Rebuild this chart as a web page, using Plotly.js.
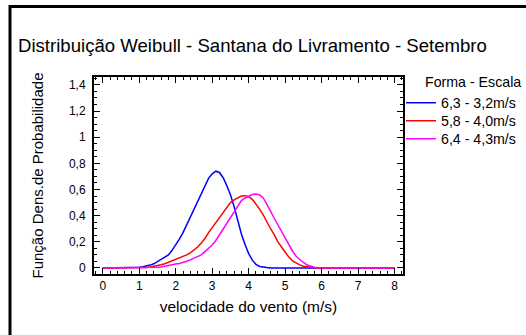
<!DOCTYPE html>
<html>
<head>
<meta charset="utf-8">
<script src="https://cdn.plot.ly/plotly-3.0.1.min.js"></script>
<style>html,body{margin:0;padding:0;background:#fff;}#chart{width:526px;height:335px;}</style>
</head>
<body>
<div id="chart"></div>
<script>
// velocidade do vento (m/s)
const velocidade = [0, 0.5, 1.0, 1.1, 1.2, 1.3, 1.4, 1.5, 1.6, 1.7, 1.8, 1.9,
  2.0, 2.1, 2.2, 2.3, 2.4, 2.5, 2.6, 2.7, 2.8, 2.9,
  3.0, 3.1, 3.2, 3.3, 3.4, 3.5, 3.6, 3.7, 3.8, 3.9,
  4.0, 4.1, 4.2, 4.3, 4.4, 4.5, 4.6, 4.7, 4.8, 4.9,
  5.0, 5.1, 5.2, 5.3, 5.4, 5.5, 5.6, 5.7, 5.8, 5.9,
  6.0, 6.5, 7.0, 7.5, 8.0];

const serieNomes = ['6,3 - 3,2m/s', '5,8 - 4,0m/s', '6,4 - 4,3m/s'];

const fdp_63_32 = [0, 0, 0.005, 0.01, 0.015, 0.022, 0.032, 0.048, 0.065, 0.08, 0.10, 0.135,
  0.175, 0.22, 0.27, 0.33, 0.39, 0.45, 0.51, 0.565, 0.63, 0.685,
  0.72, 0.74, 0.73, 0.69, 0.63, 0.56, 0.47, 0.36, 0.26, 0.18,
  0.11, 0.06, 0.028, 0.012, 0.005, 0.003, 0, 0, 0, 0,
  0, 0, 0, 0, 0, 0, 0, 0, 0, 0,
  0, 0, 0, 0, 0];

const fdp_58_40 = [0, 0, 0, 0, 0.004, 0.008, 0.012, 0.018, 0.025, 0.033, 0.044, 0.055,
  0.063, 0.072, 0.085, 0.10, 0.115, 0.135, 0.16, 0.19, 0.225, 0.27,
  0.31, 0.35, 0.385, 0.425, 0.465, 0.50, 0.52, 0.535, 0.55, 0.553,
  0.545, 0.525, 0.49, 0.45, 0.405, 0.35, 0.30, 0.255, 0.20, 0.16,
  0.12, 0.083, 0.055, 0.038, 0.024, 0.014, 0.008, 0.004, 0.001, 0,
  0, 0, 0, 0, 0];

const fdp_64_43 = [0, 0, 0, 0, 0, 0, 0.003, 0.005, 0.008, 0.012, 0.018, 0.025,
  0.03, 0.035, 0.042, 0.052, 0.062, 0.073, 0.085, 0.10, 0.125, 0.15,
  0.175, 0.21, 0.255, 0.30, 0.34, 0.385, 0.435, 0.475, 0.515, 0.535,
  0.55, 0.562, 0.565, 0.558, 0.535, 0.49, 0.435, 0.38, 0.33, 0.27,
  0.22, 0.175, 0.13, 0.09, 0.065, 0.042, 0.023, 0.013, 0.005, 0.001,
  0, 0, 0, 0, 0];

const cores = ['#0000ff', '#ff0000', '#ff00ff'];
const series = [fdp_63_32, fdp_58_40, fdp_64_43];
const legendIds = ['legend', 'legend2', 'legend3'];
const legendRowY = [103, 121, 139];

const traces = series.map((ys, i) => ({
  x: velocidade, y: ys, type: 'scatter', mode: 'lines',
  name: serieNomes[i], line: {color: cores[i], width: 1.5},
  legend: legendIds[i]
}));

const fontFam = '"Liberation Sans", Arial, Helvetica, sans-serif';

const layout = {
  width: 526, height: 335,
  margin: {l: 94, r: 123, t: 77, b: 61, autoexpand: false},
  paper_bgcolor: '#fff', plot_bgcolor: '#fff',
  separators: ',.',
  font: {family: fontFam, color: '#000', size: 12},
  title: {text: 'Distribuição Weibull - Santana do Livramento - Setembro',
    font: {size: 18.6, family: fontFam, color: '#000'},
    xref: 'container', yref: 'container', x: 18/526, xanchor: 'left', y: 1 - 45/335, yanchor: 'middle'},
  xaxis: {
    range: [-0.24, 8.23], dtick: 1, tick0: 0,
    showgrid: false, zeroline: false,
    showline: true, linecolor: '#000', linewidth: 2, mirror: 'allticks',
    ticks: 'inside', ticklen: 6, tickwidth: 1, tickcolor: '#000',
    minor: {dtick: 0.2, ticks: 'inside', ticklen: 3, tickcolor: '#000', showgrid: false},
    tickfont: {size: 12},
    title: {text: 'velocidade do vento (m/s)', font: {size: 15.5}, standoff: 9}
  },
  yaxis: {
    range: [-0.046, 1.46], dtick: 0.2, tick0: 0,
    showgrid: false, zeroline: false,
    showline: true, linecolor: '#000', linewidth: 2, mirror: 'allticks',
    ticks: 'inside', ticklen: 6, tickwidth: 1, tickcolor: '#000',
    minor: {dtick: 0.05, ticks: 'inside', ticklen: 3, tickcolor: '#000', showgrid: false},
    tickfont: {size: 12}, ticklabelstandoff: 4,
    title: {text: 'Função Dens.de Probabilidade', font: {size: 15}, standoff: 22}
  },
  showlegend: true,
  annotations: [{
    text: 'Forma - Escala', xref: 'paper', yref: 'paper',
    x: (423 - 94) / 309, xanchor: 'left', y: 1 - (82 - 77) / 197, yanchor: 'middle',
    showarrow: false, font: {size: 14.2, family: fontFam, color: '#000'}
  }],
  shapes: [{
    type: 'rect', xref: 'paper', yref: 'paper',
    x0: (10 - 94) / 309, x1: 3, y0: -3, y1: (274 - 6.5) / 197,
    line: {color: '#000', width: 3}, fillcolor: 'rgba(0,0,0,0)', layer: 'below'
  }]
};

legendIds.forEach((id, i) => {
  layout[id] = {
    x: (401 - 94) / 309, xanchor: 'left',
    y: 1 - (legendRowY[i] - 77) / 197, yanchor: 'middle',
    font: {size: 14.2, family: fontFam, color: '#000'},
    bgcolor: 'rgba(0,0,0,0)', borderwidth: 0
  };
});

Plotly.newPlot('chart', traces, layout, {displayModeBar: false, staticPlot: true});
</script>
</body>
</html>
